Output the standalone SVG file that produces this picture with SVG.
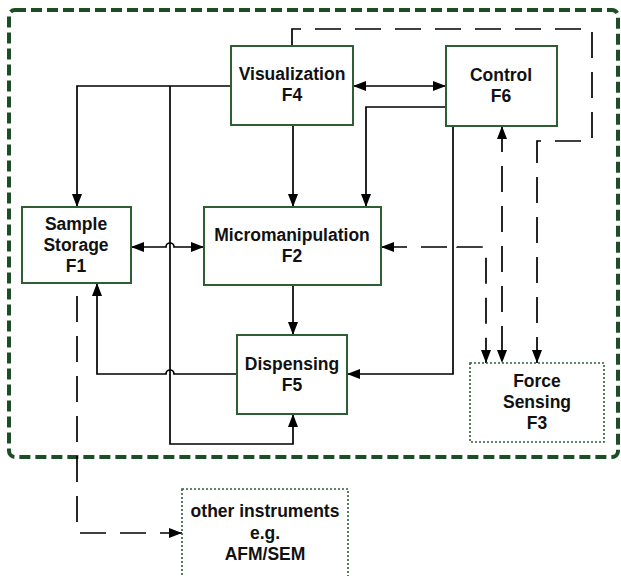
<svg xmlns="http://www.w3.org/2000/svg" width="621" height="576" viewBox="0 0 621 576">
<style>
.box{fill:#fff;stroke:#2e5e34;stroke-width:2}
.dot{fill:#fff;stroke:#2e5e34;stroke-width:1.6;stroke-dasharray:2 2}
.t{font-family:"Liberation Sans",Arial,sans-serif;font-weight:bold;font-size:17.5px;fill:#111;text-anchor:middle}
.c{fill:none;stroke:#000;stroke-width:1.7}
.d{fill:none;stroke:#000;stroke-width:1.7;stroke-dasharray:26 14}
</style>
<defs>
<marker id="a" viewBox="0 0 13 10" refX="13" refY="5" markerWidth="13" markerHeight="10" markerUnits="userSpaceOnUse" orient="auto-start-reverse">
<path d="M0,0 L13,5 L0,10 z" fill="#000"/>
</marker>
</defs>
<rect x="9" y="10" width="609" height="447" rx="6" fill="none" stroke="#1d4d26" stroke-width="4" stroke-dasharray="11 5"/>
<g id="connectors">
<path class="c" d="M231,86 H77 V207" marker-end="url(#a)"/>
<path class="c" d="M170,86 V444 H293 V414" marker-end="url(#a)"/>
<path class="c" d="M293,125 V207" marker-end="url(#a)"/>
<path class="c" d="M353,86 H446" marker-start="url(#a)" marker-end="url(#a)"/>
<path class="c" d="M446,107 H366 V207" marker-end="url(#a)"/>
<path class="c" d="M453,126 V374 H347" marker-end="url(#a)"/>
<path class="c" d="M131,247 H166 a4,4 0 0 1 8,0 H204" marker-start="url(#a)" marker-end="url(#a)"/>
<path class="c" d="M293,285 V335" marker-end="url(#a)"/>
<path class="c" d="M237,374 H174 a4,4 0 0 0 -8,0 H97 V283" marker-end="url(#a)"/>
<path class="d" d="M381,247 H449 a4,4 0 0 1 8,0 H486 V363" marker-start="url(#a)" marker-end="url(#a)"/>
<path class="d" d="M502,126 V363" marker-start="url(#a)" marker-end="url(#a)"/>
<path class="d" d="M292,46 V29 H592 V141 H537 V363" marker-end="url(#a)"/>
<path class="d" d="M77,296 V533 H182" marker-end="url(#a)"/>
</g>
<g id="F4"><rect class="box" x="231" y="46" width="122" height="79"/><text class="t" x="292" y="80">Visualization</text><text class="t" x="292" y="101">F4</text></g>
<g id="F6"><rect class="box" x="446" y="46" width="111" height="80"/><text class="t" x="501" y="81">Control</text><text class="t" x="501" y="102">F6</text></g>
<g id="F1"><rect class="box" x="22" y="207" width="109" height="76"/><text class="t" x="76" y="230">Sample</text><text class="t" x="76" y="251">Storage</text><text class="t" x="76" y="272">F1</text></g>
<g id="F2"><rect class="box" x="204" y="207" width="177" height="78"/><text class="t" x="292" y="241">Micromanipulation</text><text class="t" x="292" y="262">F2</text></g>
<g id="F5"><rect class="box" x="237" y="335" width="110" height="79"/><text class="t" x="292" y="370">Dispensing</text><text class="t" x="292" y="391">F5</text></g>
<g id="F3"><rect class="dot" x="470" y="363" width="134" height="79"/><text class="t" x="537" y="387">Force</text><text class="t" x="537" y="408">Sensing</text><text class="t" x="537" y="429">F3</text></g>
<g id="other"><rect class="dot" x="182" y="489" width="166" height="95"/><text class="t" x="265" y="517">other instruments</text><text class="t" x="265" y="539">e.g.</text><text class="t" x="265" y="560">AFM/SEM</text></g>
</svg>
